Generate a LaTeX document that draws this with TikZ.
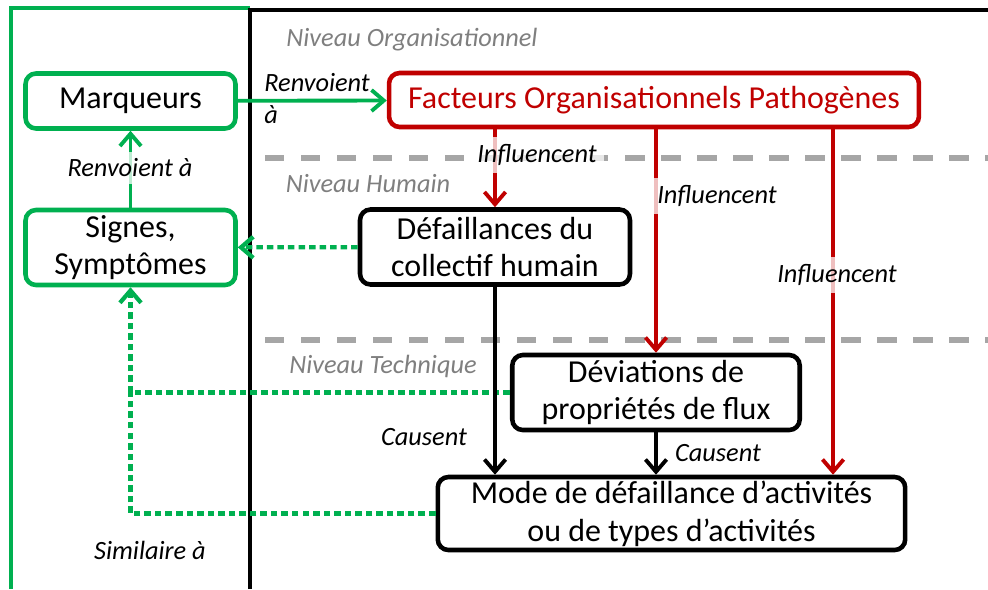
\documentclass[tikz,border=0pt]{standalone}
\usepackage{fontspec}
\setmainfont{Carlito}
\usetikzlibrary{calc,arrows.meta}

\definecolor{vert}{HTML}{00B050}
\definecolor{rouge}{HTML}{C00000}
\definecolor{gris}{HTML}{A6A6A6}
\definecolor{grisniv}{HTML}{7F7F7F}

\begin{document}
\begin{tikzpicture}[x=0.02cm,y=-0.02cm,>={Straight Barb[length=7pt,width=12pt]},
    boite/.style={draw,line width=2.6pt,rounded corners=6pt,fill=white,align=center,
        font=\fontsize{18.2}{21.5}\selectfont,inner sep=2pt},
    lien/.style={line width=2.2pt,->},
    pointille/.style={draw=vert,line width=2.4pt,dash pattern=on 3.7pt off 2.3pt},
    etiq/.style={font=\fontsize{15}{18.5}\selectfont\itshape,inner sep=4pt},
    voile/.style={etiq,fill=white,fill opacity=0.75,text opacity=1},
    niveau/.style={etiq,text=grisniv}]
            \useasboundingbox (0,0) rectangle (988,589);
            % cadres
            \draw[vert,line width=2pt] (11,589) -- (11,8) -- (250,8);
            \draw[line width=2pt] (250,589) -- (250,10) -- (988,10);
            \foreach \y in {158,340}
                \draw[gris,line width=3.2pt,dash pattern=on 11pt off 9.5pt] (265,\y) -- (988,\y);
            \node[niveau] at (412,40) {Niveau Organisationnel};
            \node[niveau] at (368,184) {Niveau Humain};
            \node[niveau] at (383,366) {Niveau Technique};
            % boites
            \node[boite,draw=vert,minimum width=4.2cm,minimum height=1.1cm] (marq) at (130.5,101) {Marqueurs};
            \node[boite,draw=vert,minimum width=4.2cm,minimum height=1.5cm] (sign) at (130.5,247.5) {Signes,\\Symptômes};
            \node[boite,draw=rouge,text=rouge,minimum width=10.6cm,minimum height=1.08cm] (fact) at (654,100) {Facteurs Organisationnels Pathogènes};
            \node[boite,minimum width=5.4cm,minimum height=1.5cm] (defa) at (495,247) {Défaillances du\\collectif humain};
            \node[boite,minimum width=5.75cm,minimum height=1.5cm] (devi) at (656,392.5) {Déviations de\\propriétés de flux};
            \node[boite,minimum width=9.35cm,minimum height=1.46cm] (mode) at (671.5,513.5) {Mode de défaillance d’activités\\ou de types d’activités};
            % liens
            \draw[lien,vert] (marq) -- (fact);
            \draw[lien,vert] (sign) -- (marq);
            \draw[pointille,->] (defa) -- (sign);
            \draw[pointille,->] (devi.west) -- (devi.west -| sign.south) -- (sign.south);
            \draw[pointille] (mode.west) -- (mode.west -| sign.south) -- (devi.west -| sign.south);
            \coordinate (f1) at (fact.south -| defa.north);
            \coordinate (f3) at ($(fact.south)!0.67!(fact.south east)$);
            \draw[lien,rouge] (f1) -- (defa.north);
            \draw[lien,rouge] (fact.south -| devi.north) -- (devi.north);
            \draw[lien,rouge] (f3) -- (f3 |- mode.north);
            \draw[lien] (defa.south) -- (defa.south |- mode.north);
            \draw[lien] (devi.south) -- (devi.south |- mode.north);
            % etiquettes
            \node[etiq,anchor=north west,align=left,inner sep=0pt] at (264,73) {Renvoient\\à};
            \node[voile] at (130,168) {Renvoient à};
            \node[voile] at (537,155) {Influencent};
            \node[voile] at (717,196) {Influencent};
            \node[voile] at (837,275) {Influencent};
            \node[etiq] at (424,437) {Causent};
            \node[etiq] at (718,453) {Causent};
            \node[etiq] at (150,550) {Similaire à};
        \end{tikzpicture}
\end{document}
